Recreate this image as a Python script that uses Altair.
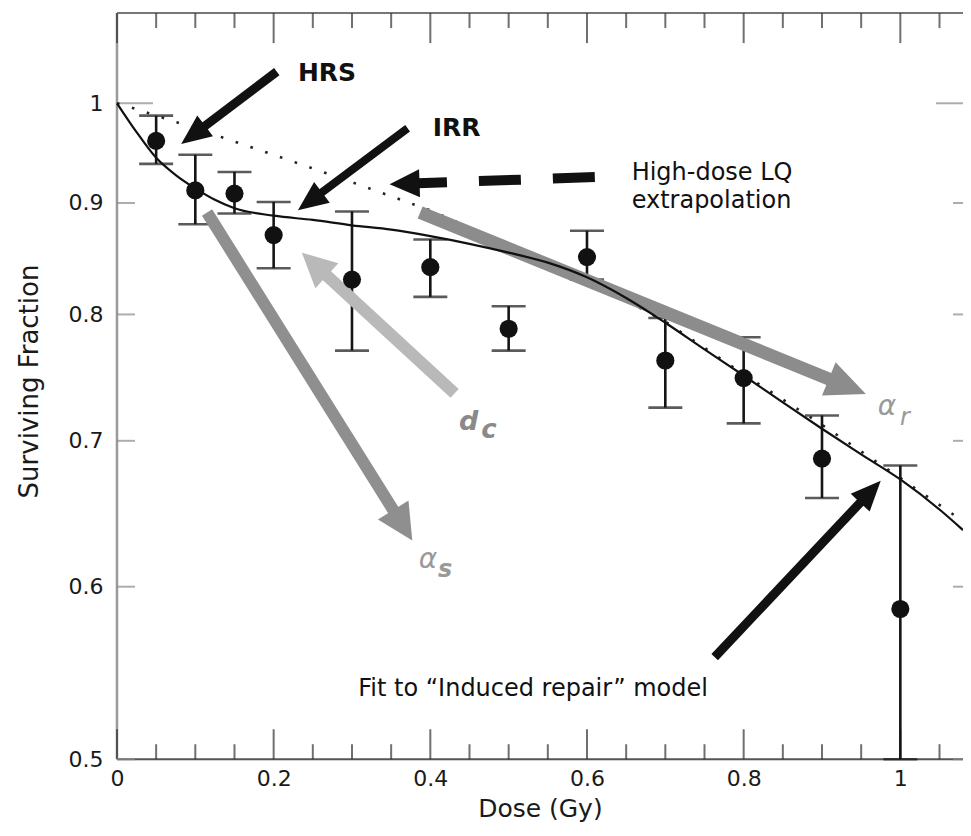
import math
import altair as alt
import pandas as pd

# ---------------- data ----------------
DOSE = [0.05, 0.10, 0.15, 0.20, 0.30, 0.40, 0.50, 0.60, 0.70, 0.80, 0.90, 1.00]
SF = [0.961, 0.912, 0.909, 0.870, 0.830, 0.841, 0.788, 0.850, 0.762, 0.748, 0.687, 0.586]
SF_LO = [0.938, 0.880, 0.890, 0.840, 0.770, 0.815, 0.770, 0.830, 0.725, 0.713, 0.659, 0.500]
SF_HI = [0.987, 0.947, 0.930, 0.901, 0.892, 0.866, 0.807, 0.874, 0.797, 0.781, 0.719, 0.682]

FIT_DOSE = [0, 0.025, 0.05, 0.075, 0.1, 0.125, 0.15, 0.2, 0.25, 0.3, 0.35, 0.4, 0.45,
            0.5, 0.55, 0.6, 0.65, 0.7, 0.75, 0.8, 0.85, 0.9, 0.95, 1.0, 1.05, 1.08]
FIT_SF = [1.0, 0.970, 0.944, 0.927, 0.914, 0.903, 0.895, 0.888, 0.884, 0.879, 0.875, 0.869, 0.862,
          0.854, 0.845, 0.832, 0.814, 0.793, 0.771, 0.750, 0.729, 0.709, 0.690, 0.672, 0.651, 0.637]

LQ_DOSE = [0, 0.02, 0.1, 0.2, 0.3, 0.4, 0.5, 0.6, 0.7, 0.8, 0.9, 1.0, 1.08]
LQ_SF = [1.0, 0.995, 0.974, 0.947, 0.920, 0.893, 0.861, 0.830, 0.794, 0.751, 0.712, 0.673, 0.643]

X_LABELS = [0, 0.2, 0.4, 0.6, 0.8, 1.0]
X_MINOR = [0.05, 0.1, 0.15, 0.25, 0.3, 0.35, 0.45, 0.5, 0.55, 0.65, 0.7, 0.75, 0.85, 0.9, 0.95, 1.05]
Y_LABELS = [0.5, 0.6, 0.7, 0.8, 0.9, 1.0]
Y_MINOR = [0.5, 0.6, 0.7, 0.8, 0.9]

# arrows: tail -> tip (dose, surviving fraction)
ARROW_TAIL_X = [0.204, 0.371, 0.610, 0.387, 0.431, 0.115, 0.763]
ARROW_TAIL_Y = [1.034, 0.974, 0.925, 0.891, 0.736, 0.891, 0.557]
ARROW_TIP_X = [0.082, 0.231, 0.348, 0.956, 0.236, 0.377, 0.975]
ARROW_TIP_Y = [0.958, 0.893, 0.918, 0.7355, 0.854, 0.630, 0.671]
ARROW_COLOR = ["#111111", "#111111", "#111111", "#8c8c8c", "#b9b9b9", "#8f8f8f", "#111111"]
ARROW_WIDTH = [9, 8, 10, 13, 12, 12, 9]
ARROW_HEAD_LEN = [30, 30, 30, 40, 34, 36, 30]
ARROW_HEAD_W = [26, 26, 28, 36, 34, 36, 26]
ARROW_DASH = [None, None, [42, 32], None, None, None, None]

BOLD_TEXT = ["HRS", "IRR"]
BOLD_X = [0.231, 0.403]
BOLD_Y = [1.032, 0.974]
NOTE_TEXT = ["High-dose LQ", "extrapolation", "Fit to \u201cInduced repair\u201d model"]
NOTE_X = [0.657, 0.657, 0.308]
NOTE_Y = [0.929, 0.902, 0.5385]

GREEK_TEXT = ["d", "c", "\u03b1", "s", "\u03b1", "r"]
GREEK_X = [0.449, 0.475, 0.397, 0.419, 0.983, 1.006]
GREEK_Y = [0.708, 0.702, 0.612, 0.606, 0.7193, 0.7118]

# ---------------- geometry ----------------
XMAX = 1.08
YMIN, YMAX = 0.5, 1.1
W, H = 846.2, 746.3

xs = alt.Scale(domain=[0, XMAX], nice=False, zero=False)
ys = alt.Scale(type="log", domain=[YMIN, YMAX], nice=False)


def px(d):
    return d / XMAX * W


def py(s):
    return (math.log(YMAX) - math.log(s)) / (math.log(YMAX) - math.log(YMIN)) * H


def inv_x(p):
    return p / W * XMAX


def inv_y(p):
    return math.exp(math.log(YMAX) - p / H * (math.log(YMAX) - math.log(YMIN)))


FONT = "DejaVu Sans"

x_axis = alt.Axis(values=X_LABELS, format="~g", labelFlush=False, labelOverlap=False, ticks=False,
                  domain=False, grid=False, labelFont=FONT, labelFontSize=22, labelColor="#1a1a1a",
                  labelPadding=9, title="Dose (Gy)", titleFont=FONT, titleFontSize=25,
                  titleFontWeight="normal", titleColor="#1a1a1a", titleX=423, titleY=49,
                  titleAlign="center", titleBaseline="middle")
y_axis = alt.Axis(values=Y_LABELS, format="~g", labelFlush=False, labelOverlap=False, ticks=False,
                  domain=False, grid=False, labelFont=FONT, labelFontSize=22, labelColor="#1a1a1a",
                  labelPadding=14, title="Surviving Fraction", titleFont=FONT, titleFontSize=26,
                  titleFontWeight="normal", titleColor="#1a1a1a", titleX=-87, titleY=368,
                  titleAngle=270, titleAlign="center", titleBaseline="middle")


def X(f):
    return alt.X(f, type="quantitative", scale=xs, axis=x_axis)


def Y(f):
    return alt.Y(f, type="quantitative", scale=ys, axis=y_axis)


layers = []

# frame lines
frame_h = pd.DataFrame({"x": [0, 0], "x2": [XMAX, XMAX], "y": [YMAX, YMIN], "c": ["#777777", "#555555"]})
layers.append(alt.Chart(frame_h).mark_rule(strokeWidth=2).encode(
    x=X("x"), x2="x2", y=Y("y"), color=alt.Color("c:N", scale=None)))
frame_v = pd.DataFrame({"x": [0], "y": [YMIN], "y2": [YMAX]})
layers.append(alt.Chart(frame_v).mark_rule(strokeWidth=2.5, color="#9a9a9a").encode(
    x=X("x"), y=Y("y"), y2="y2"))

# inward ticks (top / bottom)
for vals, L in ((X_MINOR, 15), (X_LABELS, 30)):
    top = pd.DataFrame({"x": vals, "y": [YMAX] * len(vals)})
    bot = pd.DataFrame({"x": vals, "y": [YMIN] * len(vals)})
    layers.append(alt.Chart(top).mark_tick(orient="vertical", size=L, thickness=2, color="#333333",
                                           yOffset=L / 2).encode(x=X("x"), y=Y("y")))
    layers.append(alt.Chart(bot).mark_tick(orient="vertical", size=L, thickness=2, color="#333333",
                                           yOffset=-L / 2).encode(x=X("x"), y=Y("y")))
# inward ticks (left / right)
for vals, L, R in ((Y_MINOR, 18, 10), ([1.0], 36, 27)):
    left = pd.DataFrame({"x": [0] * len(vals), "y": vals})
    right = pd.DataFrame({"x": [XMAX] * len(vals), "y": vals})
    layers.append(alt.Chart(left).mark_tick(orient="horizontal", size=L, thickness=2, color="#8a8a8a",
                                            xOffset=L / 2).encode(x=X("x"), y=Y("y")))
    layers.append(alt.Chart(right).mark_tick(orient="horizontal", size=R, thickness=2, color="#8a8a8a",
                                             xOffset=-R / 2).encode(x=X("x"), y=Y("y")))

# dotted LQ extrapolation
lq = pd.DataFrame({"dose": LQ_DOSE, "sf": LQ_SF})
layers.append(alt.Chart(lq).mark_line(color="#222222", strokeWidth=2.6, strokeDash=[2.6, 13],
                                      strokeCap="butt").encode(x=X("dose"), y=Y("sf")))

# error bars
pts = pd.DataFrame({"dose": DOSE, "sf": SF, "lo": SF_LO, "hi": SF_HI})
layers.append(alt.Chart(pts).mark_rule(color="#151515", strokeWidth=2.6).encode(
    x=X("dose"), y=Y("lo"), y2="hi"))
for f in ("lo", "hi"):
    layers.append(alt.Chart(pts).mark_tick(orient="horizontal", size=34, thickness=2.6,
                                           color="#151515").encode(x=X("dose"), y=Y(f)))

# arrows
for i in range(len(ARROW_TIP_X)):
    x0, y0 = px(ARROW_TAIL_X[i]), py(ARROW_TAIL_Y[i])
    x1, y1 = px(ARROW_TIP_X[i]), py(ARROW_TIP_Y[i])
    dx, dy = x1 - x0, y1 - y0
    dist = math.hypot(dx, dy)
    ux, uy = dx / dist, dy / dist
    hl, hw = ARROW_HEAD_LEN[i], ARROW_HEAD_W[i]
    ex, ey = x1 - ux * hl * 0.7, y1 - uy * hl * 0.7
    shaft = pd.DataFrame({"x": [ARROW_TAIL_X[i]], "y": [ARROW_TAIL_Y[i]],
                          "x2": [inv_x(ex)], "y2": [inv_y(ey)]})
    rule_kw = dict(color=ARROW_COLOR[i], strokeWidth=ARROW_WIDTH[i], strokeCap="butt")
    if ARROW_DASH[i]:
        rule_kw["strokeDash"] = ARROW_DASH[i]
    layers.append(alt.Chart(shaft).mark_rule(**rule_kw).encode(
        x=X("x"), y=Y("y"), x2="x2", y2="y2"))
    ang = math.degrees(math.atan2(dx, -dy)) % 360
    k = hw / hl
    shape = f"M0,0 L{k:.3f},2 L{-k:.3f},2 Z"
    head = pd.DataFrame({"x": [ARROW_TIP_X[i]], "y": [ARROW_TIP_Y[i]]})
    layers.append(alt.Chart(head).mark_point(shape=shape, filled=True, size=hl * hl, angle=ang,
                                             color=ARROW_COLOR[i], opacity=1, strokeWidth=0).encode(
        x=X("x"), y=Y("y")))

# fit curve
fit = pd.DataFrame({"dose": FIT_DOSE, "sf": FIT_SF})
layers.append(alt.Chart(fit).mark_line(color="#111111", strokeWidth=2.2, interpolate="monotone").encode(
    x=X("dose"), y=Y("sf")))

# data points
layers.append(alt.Chart(pts).mark_circle(size=330, color="#111111", opacity=1).encode(
    x=X("dose"), y=Y("sf")))

# annotation texts
bold = pd.DataFrame({"t": BOLD_TEXT, "x": BOLD_X, "y": BOLD_Y})
layers.append(alt.Chart(bold).mark_text(font=FONT, fontSize=25, fontWeight="bold", align="left",
                                        baseline="middle", color="#111111").encode(
    x=X("x"), y=Y("y"), text="t:N"))
notes = pd.DataFrame({"t": NOTE_TEXT, "x": NOTE_X, "y": NOTE_Y})
layers.append(alt.Chart(notes).mark_text(font=FONT, fontSize=24, align="left",
                                         baseline="middle", color="#111111").encode(
    x=X("x"), y=Y("y"), text="t:N"))

# greek / parameter labels
GREEK_SIZE = [27, 26, 28, 24, 28, 24]
GREEK_WEIGHT = ["bold", "bold", "normal", "bold", "normal", "normal"]
GREEK_COLOR = ["#8a8a8a", "#8a8a8a", "#9a9a9a", "#9a9a9a", "#9a9a9a", "#9a9a9a"]
for i in range(len(GREEK_TEXT)):
    g = pd.DataFrame({"t": [GREEK_TEXT[i]], "x": [GREEK_X[i]], "y": [GREEK_Y[i]]})
    layers.append(alt.Chart(g).mark_text(font=FONT, fontSize=GREEK_SIZE[i], fontStyle="italic",
                                         fontWeight=GREEK_WEIGHT[i], align="center",
                                         baseline="alphabetic", color=GREEK_COLOR[i]).encode(
        x=X("x"), y=Y("y"), text="t:N"))

chart = alt.layer(*layers).properties(
    width=W, height=H,
    padding={"left": 109, "top": 5, "right": 0, "bottom": 68},
    autosize=alt.AutoSizeParams(type="none"),
).configure_view(stroke=None).configure(font=FONT)

chart.save("out.html", embed_options={"renderer": "svg", "actions": False})
